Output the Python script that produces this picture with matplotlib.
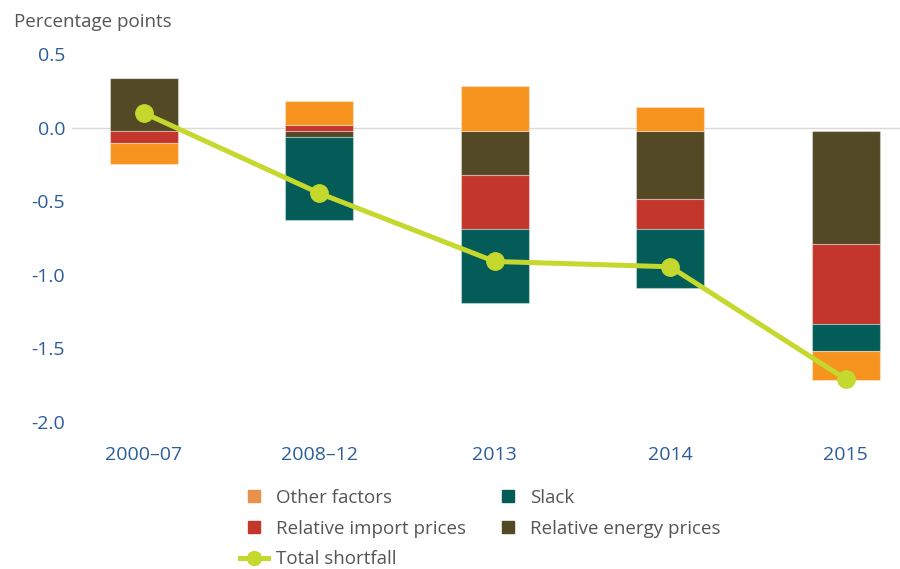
import numpy as np
import matplotlib
matplotlib.use("Agg")
import matplotlib.pyplot as plt
from matplotlib.lines import Line2D

plt.rcParams['font.family'] = ['Open Sans', 'DejaVu Sans']

categories = ['2000\u201307', '2008\u201312', '2013', '2014', '2015']
energy = [0.365, -0.040, -0.300, -0.460, -0.767]
imports = [-0.080, 0.041, -0.365, -0.204, -0.544]
slack = [0.0, -0.563, -0.500, -0.404, -0.181]
other = [-0.143, 0.163, 0.310, 0.164, -0.202]
total = [0.10, -0.446, -0.91, -0.946, -1.71]
yticks = [0.5, 0.0, -0.5, -1.0, -1.5, -2.0]

series = [
    ('Relative energy prices', energy, '#534925'),
    ('Relative import prices', imports, '#C3362C'),
    ('Slack', slack, '#045C59'),
    ('Other factors', other, '#F7941F'),
]
base = -0.025  # bars in the original start just under the zero line
line_col = '#C4D82E'
tick_col = '#2B5D9C'

fig = plt.figure(figsize=(9, 5.69), dpi=100)
ax = fig.add_axes([0.08, 0.2459, 0.92, 0.6718])

x = np.arange(len(categories))
pos = np.full(len(categories), base)
neg = np.full(len(categories), base)
for name, vals, col in series:
    v = np.array(vals)
    bottom = np.where(v >= 0, pos, neg)
    ax.bar(x, v, width=0.387, bottom=bottom, color=col,
           edgecolor=(1, 1, 1, 0.35), linewidth=0.8, zorder=2)
    pos = pos + np.where(v >= 0, v, 0)
    neg = neg + np.where(v < 0, v, 0)

ax.plot(x, total, color=line_col, lw=3.6, marker='o', ms=12.5, zorder=3)

ax.axhline(0, color='#DADADA', lw=1, zorder=1)
ax.set_xlim(-0.41, 4.31)
ax.set_ylim(-2.05, 0.55)
ax.set_yticks(yticks)
ax.set_yticklabels(['%.1f' % t for t in yticks])
ax.set_xticks(x)
ax.set_xticklabels(categories)
ax.tick_params(axis='both', length=0, labelsize=14, colors=tick_col)
ax.tick_params(axis='y', pad=5)
ax.tick_params(axis='x', pad=12)
for s in ax.spines.values():
    s.set_visible(False)

fig.text(0.015, 0.962, 'Percentage points', fontsize=13.5, color='#555555',
         va='center', ha='left')

handles = [
    Line2D([], [], ls='none', marker='s', ms=9, color='#E8914A'),
    Line2D([], [], ls='none', marker='s', ms=9, color='#C3362C'),
    Line2D([], [], color=line_col, lw=3.6, marker='o', ms=10),
    Line2D([], [], ls='none', marker='s', ms=9, color='#045C59'),
    Line2D([], [], ls='none', marker='s', ms=9, color='#534925'),
]
labels = ['Other factors', 'Relative import prices', 'Total shortfall',
          'Slack', 'Relative energy prices']
fig.legend(handles, labels, loc='upper left', bbox_to_anchor=(0.267, 0.141),
           ncol=2, frameon=False, fontsize=13.5, labelcolor='#555555',
           handlelength=1.5, handletextpad=0.4, columnspacing=1.5,
           labelspacing=0.68, borderaxespad=0, borderpad=0)

fig.savefig('out.png', dpi=100)
